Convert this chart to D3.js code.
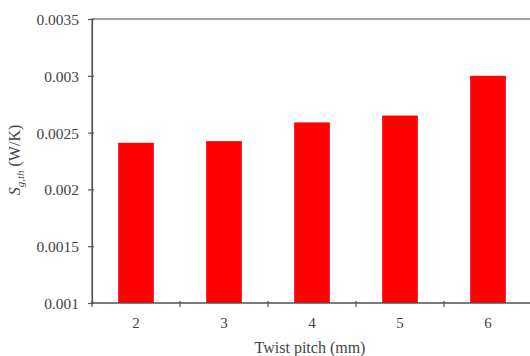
<!DOCTYPE html>
<html>
<head>
<meta charset="utf-8">
<script src="https://cdn.jsdelivr.net/npm/d3@7"></script>
<style>
body { margin: 0; background: #fff; }
</style>
</head>
<body>
<svg id="chart" width="530" height="356"></svg>
<script>
// data
var pitches = ['2', '3', '4', '5', '6'];
var entropy = [0.00241, 0.002425, 0.00259, 0.00265, 0.0030];
var y_ticks = [0.001, 0.0015, 0.002, 0.0025, 0.003, 0.0035];

var serif = 'Liberation Serif';
var margin = {left: 92, top: 19, right: -2, bottom: 53};
var width = 530 - margin.left - margin.right;
var height = 356 - margin.top - margin.bottom;

var svg = d3.select('#chart');
var g = svg.append('g').attr('transform', 'translate(' + margin.left + ',' + margin.top + ')');

var x = d3.scaleBand().domain(pitches).range([0, width]).paddingInner(0.595).paddingOuter(0.2975);
var xTicks = d3.scaleBand().domain(pitches).range([0, width]);
var y = d3.scaleLinear().domain([0.001, 0.0035]).range([height, 0]);

// frame
g.append('rect')
    .attr('x', 0).attr('y', 0)
    .attr('width', width).attr('height', height)
    .attr('fill', 'none')
    .attr('stroke', '#666').attr('stroke-width', 1.2);

// bars
g.selectAll('.bar').data(entropy).enter().append('rect')
    .attr('class', 'bar')
    .attr('x', function(d, i) { return x(pitches[i]); })
    .attr('width', x.bandwidth())
    .attr('y', function(d) { return y(d); })
    .attr('height', function(d) { return height - y(d); })
    .attr('fill', '#ff0000');

// y axis
var yAxis = d3.axisLeft(y).tickValues(y_ticks).tickSize(5).tickSizeOuter(0)
    .tickFormat(function(d) { return String(+d.toFixed(4)); });
var ya = g.append('g').call(yAxis);
ya.select('.domain').attr('stroke', '#555').attr('stroke-width', 1.2);
ya.selectAll('.tick line').attr('stroke', '#555').attr('stroke-width', 1.2).attr('x2', -4).attr('x1', 2);
ya.selectAll('.tick text').attr('x', -13).attr('dy', '0.35em')
    .style('font-family', serif).style('font-size', '15.5px').style('fill', '#444');

// x axis: ticks between categories
var bottom = g.append('g').attr('transform', 'translate(0,' + height + ')');
bottom.append('line').attr('x1', 0).attr('x2', width).attr('stroke', '#555').attr('stroke-width', 1.2);
var bounds = pitches.map(function(p) { return xTicks(p); }).concat([width]);
bottom.selectAll('.xt').data(bounds).enter().append('line')
    .attr('x1', function(d) { return d; }).attr('x2', function(d) { return d; })
    .attr('y1', -2).attr('y2', 4)
    .attr('stroke', '#555').attr('stroke-width', 1.2);
bottom.selectAll('.xl').data(pitches).enter().append('text')
    .attr('x', function(d) { return xTicks(d) + xTicks.bandwidth() / 2; })
    .attr('y', 25)
    .attr('text-anchor', 'middle')
    .style('font-family', serif).style('font-size', '15px').style('fill', '#444')
    .text(function(d) { return d; });

// axis titles
svg.append('text')
    .attr('x', 310).attr('y', 353)
    .attr('text-anchor', 'middle')
    .style('font-family', serif).style('font-size', '16px').style('fill', '#444')
    .text('Twist pitch (mm)');

var yt = svg.append('text')
    .attr('transform', 'translate(20,160) rotate(-90)')
    .attr('text-anchor', 'middle')
    .style('font-family', serif).style('font-size', '16px').style('fill', '#444');
yt.append('tspan').attr('font-style', 'italic').text('S');
yt.append('tspan').attr('font-style', 'italic').style('font-size', '11px').attr('dy', 4).text('g,th');
yt.append('tspan').attr('dy', -4).text(' (W/K)');
</script>
</body>
</html>
